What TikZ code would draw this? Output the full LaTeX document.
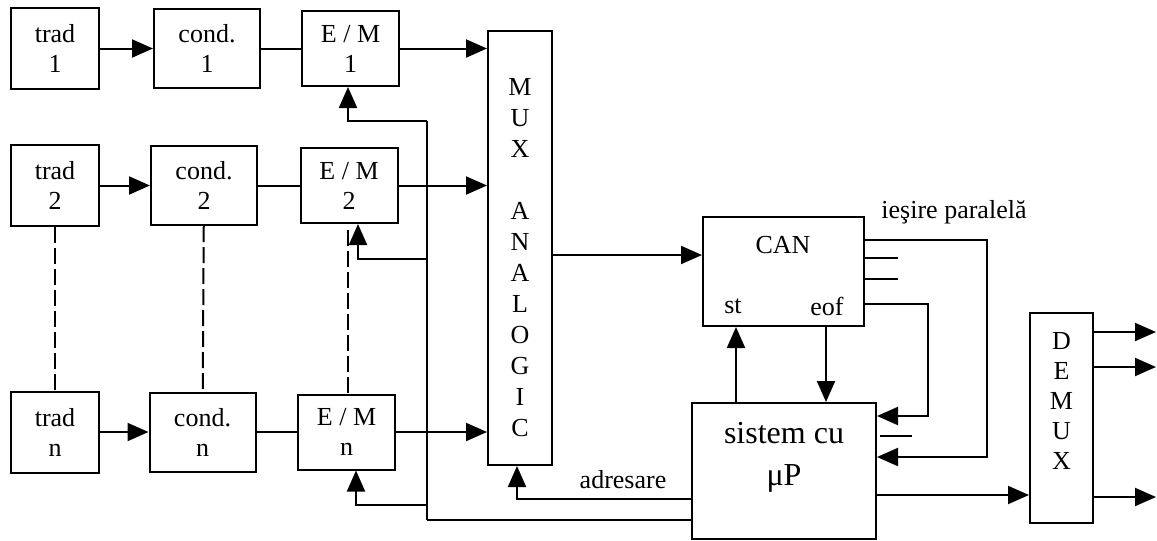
\documentclass[tikz,border=0pt]{standalone}
\usepackage{fontspec}
\setmainfont{Liberation Serif}
\usetikzlibrary{arrows.meta}

\begin{document}
\begin{tikzpicture}[x=0.5pt,y=-0.5pt,line width=1pt,
        >={Triangle[length=10.5pt,width=9pt]},
        txt/.style={inner sep=0pt,align=center,font=\fontsize{13}{15}\selectfont},
        blk/.style={draw,txt,line width=1pt},
        tradbox/.style={blk,minimum width=44pt,minimum height=40.5pt},
        condbox/.style={blk,minimum width=53pt,minimum height=39.5pt},
        embox/.style={blk,minimum width=48.5pt,minimum height=37.5pt},
        dotline/.style={dash pattern=on 8pt off 2.5pt}]
        \useasboundingbox (0,0) rectangle (1157,541);
        % multiplexor
        \node[blk,minimum width=32pt,minimum height=217pt] (mux) at (520,248) {};
        \node[txt,font=\fontsize{13}{15.5}\selectfont] (muxtxt) at (520,257.5)
            {M\\U\\X\\[15.5pt]A\\N\\A\\L\\O\\G\\I\\C};
        % canalele de masura
        \foreach \i/\y/\cx/\ex in {1/48.5/207/350.5,2/185.5/204/349,n/432/202.5/346.5}{
            \node[tradbox] (trad\i) at (55,\y) {trad\\\i};
            \node[condbox] (cond\i) at (\cx,\y) {cond.\\\i};
            \node[embox] (em\i) at (\ex,\y) {E / M\\\i};
            \draw[->] (trad\i) -- (cond\i);
            \draw (cond\i) -- (em\i);
            \draw[->] (em\i) -- (em\i -| mux.west);
        }
        \draw[dotline] (trad2) -- (tradn);
        \draw[dotline] (cond2) -- (condn);
        \draw[dotline] ([shift={(-0.5pt,-3pt)}]em2.south) -- ([xshift=-0.5pt]em2.south |- emn.north);
        % CAN
        \node[blk,minimum width=80.5pt,minimum height=54.5pt] (can) at (783.5,271.5) {};
        \node[txt] (cantxt) at (783,245) {CAN};
        \node[txt] (st) at (733,306) {st};
        \node[txt] (eof) at (827,306) {eof};
        \coordinate (canin) at ([yshift=8.25pt]can.west);
        \draw[->] (mux.east |- canin) -- (canin);
        % sistem cu microprocesor
        \node[blk,minimum width=92pt,minimum height=68pt] (sist) at (784,471) {};
        \node[txt,font=\fontsize{16}{21}\selectfont] (sisttxt) at (784,457) {sistem cu\\μP};
        \coordinate (stpin) at ([xshift=-24pt]sist.north);
        \coordinate (eofpin) at ([xshift=21pt]sist.north);
        \draw[->] (stpin) -- (stpin |- can.south);
        \draw[->] (eofpin |- can.south) -- (eofpin);
        % iesire paralela
        \coordinate (pout) at (987,457);
        \coordinate (peof) at (928,416);
        \draw[->] ([yshift=15.75pt]can.east) -| (pout) -- (pout -| sist.east);
        \draw[->] ([yshift=-16.25pt]can.east) -| (peof) -- (peof -| sist.east);
        \draw ([yshift=6.75pt]can.east) -- ++(16.5pt,0);
        \draw ([yshift=-3.75pt]can.east) -- ++(16.5pt,0);
        \draw ([shift={(1.5pt,17.5pt)}]sist.east) -- ++(16pt,0);
        \node[txt] (iesire) at (954,212) {ieşire paralelă};
        % comanda E/M
        \coordinate (bt) at (427,121);
        \coordinate (b2) at (427,259);
        \coordinate (bn) at (427,505);
        \coordinate (bb) at (427,520);
        \draw (bt) -- (bb);
        \draw[->] (bt) -| ([xshift=-1.25pt]em1.south);
        \draw[->] (b2) -| ([xshift=4.5pt]em2.south);
        \draw[->] (bn) -| ([xshift=4.75pt]emn.south);
        \draw (bb) -- (bb -| sist.west);
        % adresare
        \draw[->] ([yshift=-14pt]sist.west) -| ([xshift=-1.5pt]mux.south);
        \node[txt] (adrtxt) at (623,480) {adresare};
        % DEMUX
        \node[blk,minimum width=31.5pt,minimum height=105pt] (demux) at (1061.5,418) {};
        \node[txt] (demuxtxt) at (1061.5,401) {D\\E\\M\\U\\X};
        \coordinate (demin) at ([yshift=-12pt]sist.east);
        \draw[->] (demin) -- (demin -| demux.west);
        \foreach \s in {43,25.5,-39.5}
            \draw[->] ([yshift=\s pt]demux.east) -- ++(31pt,0);
\end{tikzpicture}
\end{document}
